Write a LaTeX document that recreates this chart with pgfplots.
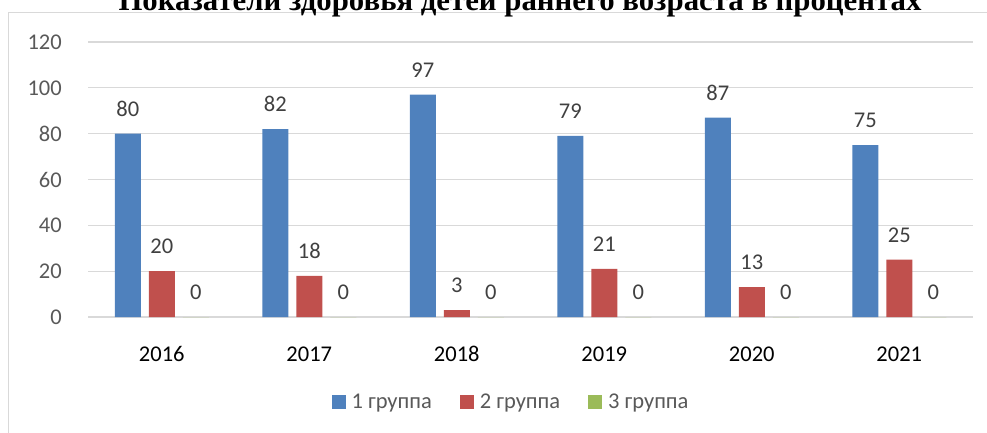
\documentclass[border=0pt]{standalone}
\usepackage{pgfplots}
\pgfplotsset{compat=1.18}
\usepackage{fontspec}
\setmainfont{Carlito}
\newfontfamily\titlefont{Liberation Serif}
\definecolor{c1}{HTML}{4F81BD}
\definecolor{c2}{HTML}{C0504D}
\definecolor{c3}{HTML}{9BBB59}
\definecolor{gridc}{HTML}{D9D9D9}
\definecolor{tickc}{HTML}{595959}
\definecolor{lblc}{HTML}{404040}
\newcommand{\fs}{\fontsize{22.5}{26}\selectfont}
\begin{document}
\begin{tikzpicture}
\useasboundingbox (0pt,0pt) rectangle (987pt,-432pt);
\draw[gridc, line width=1pt] (8pt,-450pt) -- (8pt,-12.5pt) -- (1000pt,-12.5pt);
\node[anchor=base, inner sep=0pt, font=\titlefont\bfseries\fontsize{30.8}{32}\selectfont] at (520pt,-10.5pt) {Показатели здоровья детей раннего возраста в процентах};
\begin{axis}[
  at={(88pt,-317pt)}, anchor=south west,
  scale only axis, width=885pt, height=275pt,
  ymin=0, ymax=120, xmin=-0.5, xmax=5.5,
  ytick={0,20,40,60,80,100,120},
  xtick={0,1,2,3,4,5},
  xticklabels={2016,2017,2018,2019,2020,2021},
  /pgf/number format/assume math mode=true,
  ybar=8pt, bar width=26pt,
  axis line style={draw=none},
  tick style={draw=none},
  ymajorgrids, grid style={gridc, line width=1.2pt},
  yticklabel style={font=\fs, color=tickc, inner sep=0pt, xshift=-26pt, anchor=east},
  xticklabel style={font=\fs, color=black, inner sep=0pt, yshift=-25pt, anchor=north},
  nodes near coords,
  nodes near coords style={font=\fs, color=lblc, anchor=south, inner sep=0pt, yshift=17pt},
  legend columns=3,
  legend style={draw=none, at={(0.4768,-0.309)}, anchor=center, font=\fs, text=tickc,
    nodes={inner sep=0pt},
    /tikz/every odd column/.append style={column sep=6pt},
    /tikz/every even column/.append style={column sep=28pt}},
  legend image code/.code={\draw[#1, draw=none] (0pt,-7pt) rectangle (14pt,7pt);},
]
\addplot[fill=c1, draw=none] coordinates {(0,80) (1,82) (2,97) (3,79) (4,87) (5,75)};
\addplot[fill=c2, draw=none] coordinates {(0,20) (1,18) (2,3) (3,21) (4,13) (5,25)};
\addplot[fill=c3, draw=none] coordinates {(0,0) (1,0) (2,0) (3,0) (4,0) (5,0)};
\legend{1 группа, 2 группа, 3 группа}
\end{axis}
\end{tikzpicture}
\end{document}
